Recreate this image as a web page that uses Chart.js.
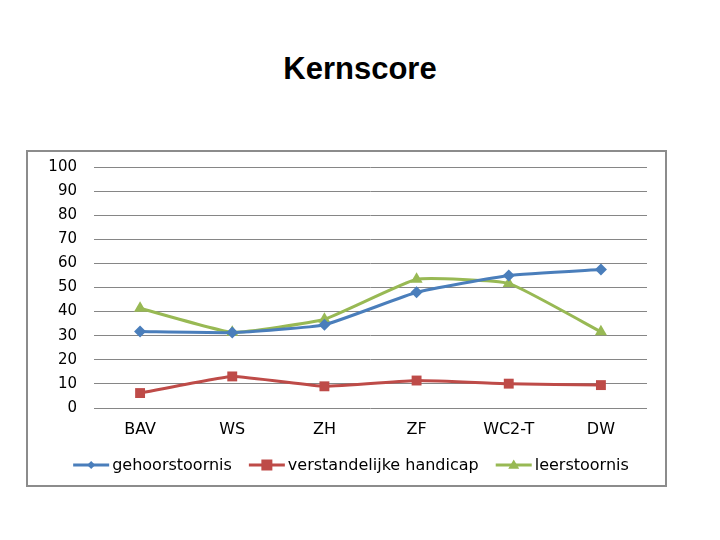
<!DOCTYPE html>
<html>
<head>
<meta charset="utf-8">
<script src="https://cdn.jsdelivr.net/npm/chart.js@4/dist/chart.umd.min.js"></script>
<style>
  html, body { margin: 0; padding: 0; background: #fff; }
  #wrap { position: relative; width: 720px; height: 540px; }
  #title { position: absolute; left: 0; width: 720px; top: 51px; text-align: center;
    font-family: "Liberation Sans", Arial, sans-serif; font-weight: bold; font-size: 31px; color: #000; }
  #box { position: absolute; left: 26px; top: 150px; width: 641px; height: 337px;
    border: 2px solid #8c8c8c; box-sizing: border-box; }
  #c { position: absolute; left: 0; top: 0; }
</style>
</head>
<body>
<div id="wrap">
  <div id="title">Kernscore</div>
  <div id="box"></div>
  <canvas id="c" width="720" height="540"></canvas>
</div>
<script>
const categories = ["BAV", "WS", "ZH", "ZF", "WC2-T", "DW"];
const gehoorstoornis = [31.7, 31.3, 34.5, 48.0, 55.0, 57.5];
const verstandelijkeHandicap = [6.2, 13.1, 9.0, 11.4, 10.1, 9.5];
const leerstoornis = [41.4, 31.4, 36.8, 53.4, 51.7, 31.6];
const seriesNames = ["gehoorstoornis", "verstandelijke handicap", "leerstoornis"];
const yTicks = [0, 10, 20, 30, 40, 50, 60, 70, 80, 90, 100];

const colors = ["#4a7ebb", "#be4b48", "#98b954"];
const markers = ["rectRot", "rect", "triangle"];
const radii = [6, 7, 7];

const FONT = "'DejaVu Sans', Verdana, sans-serif";

function drawMarker(ctx, style, x, y, r, color) {
  ctx.save();
  ctx.fillStyle = color;
  ctx.beginPath();
  if (style === "rectRot") {
    ctx.moveTo(x, y - r); ctx.lineTo(x + r, y); ctx.lineTo(x, y + r); ctx.lineTo(x - r, y);
  } else if (style === "rect") {
    ctx.rect(x - r, y - r, 2 * r, 2 * r);
  } else {
    ctx.moveTo(x, y - r); ctx.lineTo(x + r, y + r * 0.7); ctx.lineTo(x - r, y + r * 0.7);
  }
  ctx.closePath();
  ctx.fill();
  ctx.restore();
}

const legendPlugin = {
  id: "lineLegend",
  afterDraw(chart) {
    const ctx = chart.ctx;
    ctx.save();
    ctx.font = "16px " + FONT;
    ctx.textBaseline = "middle";
    ctx.fillStyle = "#000";
    const lineLen = 36, gap = 3, itemGap = 17, y = 465;
    const widths = chart.data.datasets.map(d => lineLen + gap + ctx.measureText(d.label).width);
    const total = widths.reduce((a, b) => a + b, 0) + itemGap * (widths.length - 1);
    let x = 351 - total / 2;
    chart.data.datasets.forEach((d, i) => {
      ctx.strokeStyle = d.borderColor;
      ctx.lineWidth = 3;
      ctx.beginPath();
      ctx.moveTo(x, y); ctx.lineTo(x + lineLen, y);
      ctx.stroke();
      drawMarker(ctx, d.pointStyle, x + lineLen / 2, y, [4, 5.5, 5.5][i], d.borderColor);
      ctx.fillStyle = "#000";
      ctx.fillText(d.label, x + lineLen + gap, y + 1);
      x += widths[i] + itemGap;
    });
    ctx.restore();
  }
};

const datasets = [gehoorstoornis, verstandelijkeHandicap, leerstoornis].map((vals, i) => ({
  label: seriesNames[i],
  data: vals,
  borderColor: colors[i],
  backgroundColor: colors[i],
  borderWidth: 3,
  pointStyle: markers[i],
  pointRadius: radii[i],
  pointBackgroundColor: colors[i],
  pointBorderColor: colors[i],
  pointBorderWidth: 0,
  tension: 0.12,
  fill: false
}));

new Chart(document.getElementById("c"), {
  type: "line",
  data: { labels: categories, datasets },
  options: {
    responsive: false,
    animation: false,
    events: [],
    layout: { padding: { left: 0, right: 720 - 647, top: 167, bottom: 0 } },
    plugins: { legend: { display: false }, title: { display: false }, tooltip: { enabled: false } },
    scales: {
      x: {
        type: "category",
        offset: true,
        grid: { display: false, drawTicks: false },
        border: { display: false },
        ticks: { color: "#000", font: { family: FONT, size: 16 }, padding: 12, maxRotation: 0 },
        afterFit(scale) { scale.height = 540 - 408; }
      },
      y: {
        min: 0, max: 100,
        afterBuildTicks(scale) { scale.ticks = yTicks.map(v => ({ value: v })); },
        grid: { color: "#868686", lineWidth: 1, drawTicks: false },
        border: { display: false },
        ticks: { color: "#000", font: { family: FONT, size: 15 }, padding: 17 },
        afterFit(scale) { scale.width = 94; }
      }
    }
  },
  plugins: [legendPlugin]
});
</script>
</body>
</html>
